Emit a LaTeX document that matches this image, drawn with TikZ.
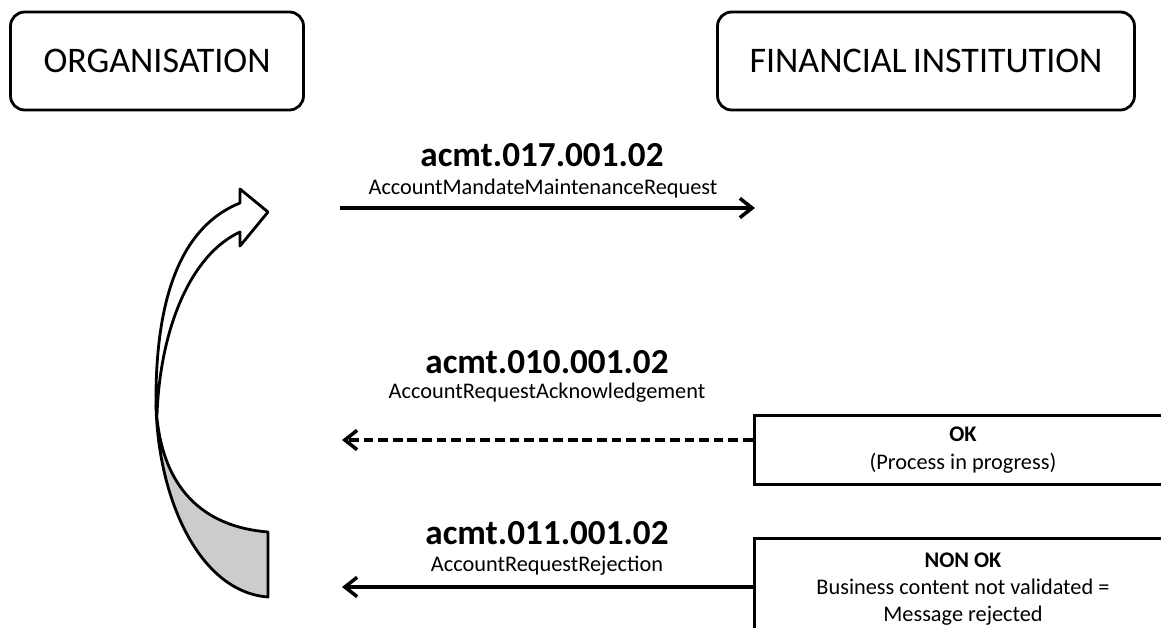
\documentclass[tikz,border=0pt]{standalone}
\usepackage{fontspec}
\setmainfont{Carlito}
\usetikzlibrary{arrows.meta}

\tikzset{
  party/.style={draw,rounded corners=8pt,line width=1.6pt,minimum height=1.96cm,
    font=\fontsize{20.5}{24}\selectfont},
  msgid/.style={font=\bfseries\fontsize{20}{23}\selectfont},
  msgname/.style={font=\fontsize{12.7}{15}\selectfont},
  status/.style={draw,line width=1.7pt,minimum width=8.36cm,align=center,
    font=\fontsize{12.7}{15.5}\selectfont},
  msg/.style={line width=2pt,-{Straight Barb[length=7pt,width=11pt]}},
}

\begin{document}
\begin{tikzpicture}[x=0.02cm,y=-0.02cm]
\clip (0,0) rectangle (1161,628);
\node[party,minimum width=5.86cm] (org) at (157,61) {ORGANISATION};
\node[party,minimum width=8.34cm] (fi) at (926,61) {FINANCIAL\,INSTITUTION};

% request
\node[msgid] (req) at (542,155) {acmt.017.001.02};
\node[msgname] (reqname) at (543,189) {AccountMandateMaintenanceRequest};
\coordinate (reqstart) at (340,208);
\coordinate (reqend) at (755,208);
\draw[msg] (reqstart) -- (reqend);

% acknowledgement
\node[msgid] (ack) at (547,362) {acmt.010.001.02};
\node[msgname] (ackname) at (547,393) {AccountRequestAcknowledgement};
\node[status,minimum height=1.38cm] (ok) at (963,450) {\textbf{OK}\\(Process in progress)};
\coordinate (ackend) at (342,440);
\draw[msg,dash pattern=on 5.5pt off 2.8pt] (ok.west |- ackend) -- (ackend);

% rejection
\node[msgid] (rej) at (547,533) {acmt.011.001.02};
\node[msgname] (rejname) at (547,566) {AccountRequestRejection};
\node[status,minimum height=2.04cm] (nok) at (963,589)
  {\textbf{NON OK}\\Business content not validated =\\Message rejected};
\coordinate (rejend) at (342,587);
\draw[msg] (nok.west |- rejend) -- (rejend);

% curved arrow
\draw[fill=white,line width=1.6pt,line join=round] (156,405) .. controls (155,290) and (185,225) .. (240,203)
  -- (240,189) -- (268,212) -- (240,246) -- (240,232)
  .. controls (190,255) and (160,330) .. (157,415) -- cycle;
\draw[fill=gray!40,line width=1.6pt,line join=round] (268,532) .. controls (205,527) and (160,490) .. (156,405)
  .. controls (158,500) and (200,592) .. (268,597) -- cycle;
\end{tikzpicture}
\end{document}
